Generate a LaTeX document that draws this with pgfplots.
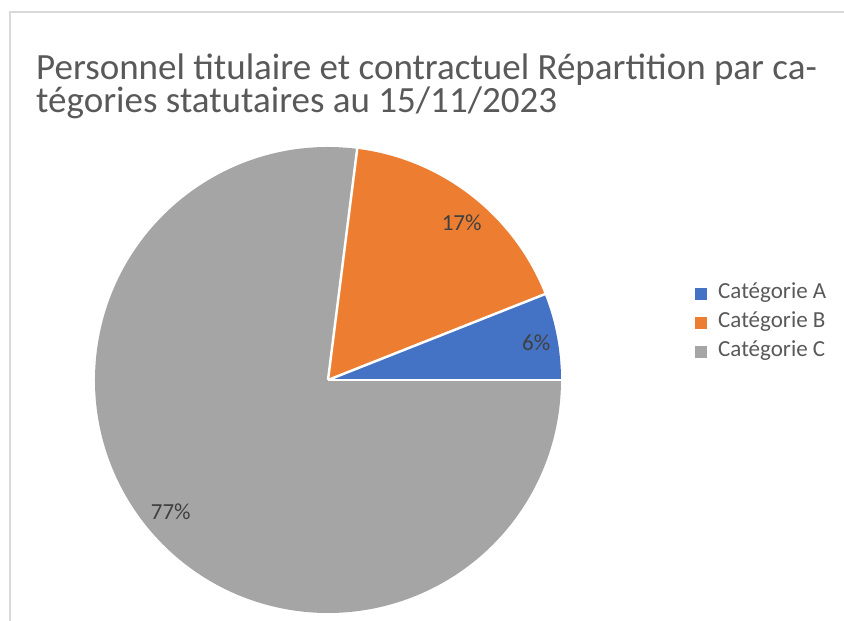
\documentclass[border=0pt]{standalone}
\usepackage{pgfplots}
\usepackage{pgfplotstable}
\usepackage{fontspec}
\setmainfont{Carlito}
\usetikzlibrary{calc}
\pgfplotsset{compat=1.18}
\definecolor{catA}{HTML}{4472C4}
\definecolor{catB}{HTML}{ED7D31}
\definecolor{catC}{HTML}{A5A5A5}
\definecolor{titlegray}{HTML}{595959}
\definecolor{labelgray}{HTML}{404040}
\definecolor{framegray}{HTML}{D9D9D9}

% share of each category, in percent
\pgfplotstableread{
cat value
A 6
B 17
C 77
}\piedata

\begin{document}
\begin{tikzpicture}
\pgfplotstablegetelem{0}{value}\of\piedata \let\vA\pgfplotsretval
\pgfplotstablegetelem{1}{value}\of\piedata \let\vB\pgfplotsretval
\pgfplotstablegetelem{2}{value}\of\piedata \let\vC\pgfplotsretval
\pgfmathsetmacro\aA{3.6*\vA}
\pgfmathsetmacro\aB{\aA+3.6*\vB}
\pgfmathsetmacro\aC{\aB+3.6*\vC}
\pgfmathsetmacro\mA{\aA/2}
\pgfmathsetmacro\mB{(\aA+\aB)/2}
\pgfmathsetmacro\mC{(\aB+\aC)/2}
\def\R{233pt}
\begin{axis}[
    width=844pt, height=621pt, scale only axis,
    xmin=0, xmax=844, ymin=0, ymax=621, y dir=reverse,
    hide axis, clip=false,
]
% frame of the chart area
\draw[framegray, line width=2pt] (axis cs:10,621) -- (axis cs:10,12) -- (axis cs:844,12);
% title
\node[anchor=base west, text=titlegray, font=\fontsize{37}{42}\selectfont, inner sep=0pt]
    at (axis cs:36,79) {Personnel titulaire et contractuel Répartition par ca-};
\node[anchor=base west, text=titlegray, font=\fontsize{37}{42}\selectfont, inner sep=0pt]
    at (axis cs:36,112) {tégories statutaires au 15/11/2023};
% slices
\fill[catA] (axis cs:328,380) -- ++(0:\R) arc[start angle=0, end angle=\aA, radius=\R] -- cycle;
\fill[catB] (axis cs:328,380) -- ++(\aA:\R) arc[start angle=\aA, end angle=\aB, radius=\R] -- cycle;
\fill[catC] (axis cs:328,380) -- ++(\aB:\R) arc[start angle=\aB, end angle=\aC, radius=\R] -- cycle;
\draw[white, line width=2.5pt] (axis cs:328,380) -- ++(0:\R+1pt);
\draw[white, line width=2.5pt] (axis cs:328,380) -- ++(\aA:\R+1pt);
\draw[white, line width=2.5pt] (axis cs:328,380) -- ++(\aB:\R+1pt);
% data labels
\node[text=labelgray, font=\fontsize{23}{28}\selectfont] at ($(axis cs:328,380)+(\mA:212pt)+(0pt,-2pt)$) {\vA\%};
\node[text=labelgray, font=\fontsize{23}{28}\selectfont] at ($(axis cs:328,380)+(\mB:210pt)+(5pt,-9pt)$) {\vB\%};
\node[text=labelgray, font=\fontsize{23}{28}\selectfont] at ($(axis cs:328,380)+(\mC:207pt)+(-2pt,5pt)$) {\vC\%};
% legend
\fill[catA] (axis cs:695,288) rectangle (axis cs:707,300);
\fill[catB] (axis cs:695,317) rectangle (axis cs:707,329);
\fill[catC] (axis cs:695,346) rectangle (axis cs:707,358);
\node[anchor=base west, text=titlegray, font=\fontsize{23}{28}\selectfont, inner sep=0pt]
    at (axis cs:718,298) {Catégorie A};
\node[anchor=base west, text=titlegray, font=\fontsize{23}{28}\selectfont, inner sep=0pt]
    at (axis cs:718,327) {Catégorie B};
\node[anchor=base west, text=titlegray, font=\fontsize{23}{28}\selectfont, inner sep=0pt]
    at (axis cs:718,356) {Catégorie C};
\end{axis}
\pgfresetboundingbox
\useasboundingbox (current axis.south west) rectangle (current axis.north east);
\end{tikzpicture}
\end{document}
